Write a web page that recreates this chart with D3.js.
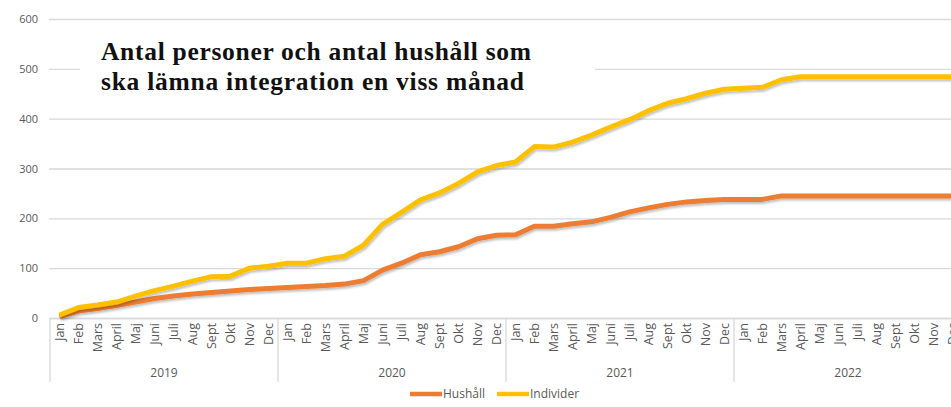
<!DOCTYPE html>
<html>
<head>
<meta charset="utf-8">
<script src="https://cdn.jsdelivr.net/npm/d3@7"></script>
<style>
  body { margin: 0; background: #fff; }
  #chart { width: 951px; height: 407px; overflow: hidden; }
</style>
</head>
<body>
<div id="chart"></div>
<script>
const svgWidth = 951;
const svgHeight = 407;

// data
const years = ["2019", "2020", "2021", "2022"];
const months = ["Jan", "Feb", "Mars", "April", "Maj", "Juni", "Juli", "Aug", "Sept", "Okt", "Nov", "Dec"];
const yTicks = [0, 100, 200, 300, 400, 500, 600];
const seriesNames = ["Hushåll", "Individer"];

const hushall = [
  3, 14, 19, 25, 32, 39, 44, 48, 51, 54, 57, 59,
  61, 63, 65, 68, 75, 96, 110, 127, 133, 143, 159, 166,
  167, 184, 184, 189, 193, 202, 213, 221, 228, 233, 236, 238,
  238, 238, 245, 245, 245, 245, 245, 245, 245, 245, 245, 245
];
const individer = [
  6, 21, 26, 32, 44, 55, 64, 74, 83, 84, 100, 104,
  110, 110, 119, 124, 146, 188, 212, 237, 251, 270, 293, 306,
  313, 344, 343, 353, 367, 383, 398, 416, 431, 440, 451, 459,
  461, 463, 478, 484, 484, 484, 484, 484, 484, 484, 484, 484
];

const titleLines = ["Antal personer och antal hushåll som", "ska lämna integration en viss månad"];

const orange = "#ed7d31";
const yellow = "#ffc000";
const gridColor = "#d9d9d9";
const textColor = "#595959";

const svg = d3.select("#chart")
  .append("svg")
  .attr("width", svgWidth)
  .attr("height", svgHeight);

const defs = svg.append("defs");
const shadow = defs.append("filter").attr("id", "shadow")
  .attr("x", "-5%").attr("y", "-20%").attr("width", "110%").attr("height", "140%");
shadow.append("feDropShadow")
  .attr("dx", 1).attr("dy", 2).attr("stdDeviation", 1.2)
  .attr("flood-color", "#000").attr("flood-opacity", 0.25);

// plot area
const left = 50;
const plotTop = 19;
const plotBottom = 318;

// categories: one per month per year
const categories = [];
years.forEach(yr => months.forEach(m => categories.push(yr + "-" + m)));

const x = d3.scaleBand()
  .domain(categories)
  .range([left, left + 19 * categories.length]);

const xYear = d3.scaleBand()
  .domain(years)
  .range([left, left + 19 * categories.length]);

const y = d3.scaleLinear()
  .domain([0, 600])
  .range([plotBottom, plotTop]);

// gridlines
svg.append("g")
  .attr("transform", `translate(${left - 1},0)`)
  .call(d3.axisLeft(y).tickValues(yTicks).tickSize(-(svgWidth - left + 1)).tickFormat(""))
  .call(g => g.select(".domain").remove())
  .call(g => g.selectAll("line").attr("stroke", gridColor).attr("stroke-width", 1.3));

// y labels
svg.append("g")
  .attr("transform", `translate(38,0)`)
  .call(d3.axisLeft(y).tickValues(yTicks).tickSize(0).tickPadding(0))
  .call(g => g.select(".domain").remove())
  .call(g => g.selectAll("text")
    .attr("fill", textColor)
    .style("font-family", "'Open Sans', sans-serif")
    .style("font-size", "11px"));

// x axis: month labels
const xAxis = svg.append("g")
  .attr("transform", `translate(0,${plotBottom})`)
  .call(d3.axisBottom(x).tickSize(0).tickFormat(d => d.split("-")[1]));
xAxis.select(".domain").attr("stroke", gridColor).attr("stroke-width", 1.3);
xAxis.selectAll("text")
  .attr("fill", textColor)
  .style("font-family", "'Open Sans', sans-serif")
  .style("font-size", "12.5px")
  .attr("transform", "rotate(-90)")
  .attr("x", -5)
  .attr("y", 0)
  .attr("dy", "0.35em")
  .attr("text-anchor", "end");

// year separators and labels
const yearGroup = svg.append("g");
yearGroup.selectAll(".sep")
  .data(years.concat(["end"]))
  .enter()
  .append("line")
  .attr("class", "sep")
  .attr("x1", (d, i) => i < years.length ? xYear(d) : xYear.range()[1])
  .attr("x2", (d, i) => i < years.length ? xYear(d) : xYear.range()[1])
  .attr("y1", plotBottom)
  .attr("y2", 382)
  .attr("stroke", gridColor)
  .attr("stroke-width", 1.3);

yearGroup.selectAll(".year")
  .data(years)
  .enter()
  .append("text")
  .attr("class", "year")
  .attr("x", d => xYear(d) + xYear.bandwidth() / 2)
  .attr("y", 377)
  .attr("text-anchor", "middle")
  .attr("fill", textColor)
  .style("font-family", "'Open Sans', sans-serif")
  .style("font-size", "12px")
  .text(d => d);

// title box
svg.append("rect")
  .attr("x", 80).attr("y", 24)
  .attr("width", 515).attr("height", 88)
  .attr("fill", "#fff");

const titleWidths = [430, 423];
svg.append("text")
  .attr("x", 101)
  .attr("y", 60)
  .style("font-family", "'Liberation Serif', serif")
  .style("font-weight", "bold")
  .style("font-size", "25.5px")
  .attr("fill", "#111")
  .selectAll("tspan")
  .data(titleLines)
  .enter()
  .append("tspan")
  .attr("x", 101)
  .attr("dy", (d, i) => i === 0 ? 0 : 30)
  .attr("textLength", (d, i) => titleWidths[i])
  .text(d => d);

// lines
const line = d3.line()
  .x((d, i) => x(categories[i]) + x.bandwidth() / 2)
  .y(d => y(d));

const series = [
  { name: seriesNames[0], values: hushall, color: orange },
  { name: seriesNames[1], values: individer, color: yellow }
];

svg.append("g")
  .selectAll("path")
  .data(series)
  .enter()
  .append("path")
  .attr("d", d => line(d.values))
  .attr("fill", "none")
  .attr("stroke", d => d.color)
  .attr("stroke-width", 5)
  .attr("stroke-linejoin", "round")
  .attr("filter", "url(#shadow)");

// legend
const legend = svg.append("g")
  .attr("transform", "translate(410,394)");

const legendItems = legend.selectAll("g")
  .data(series)
  .enter()
  .append("g")
  .attr("transform", (d, i) => `translate(${i * 87},0)`);

legendItems.append("line")
  .attr("x1", 0).attr("x2", 32)
  .attr("y1", 0).attr("y2", 0)
  .attr("stroke", d => d.color)
  .attr("stroke-width", 4.5);

legendItems.append("text")
  .attr("x", 33)
  .attr("y", 0)
  .attr("dy", "0.35em")
  .attr("fill", textColor)
  .style("font-family", "'Open Sans', sans-serif")
  .style("font-size", "12px")
  .text(d => d.name);
</script>
</body>
</html>
